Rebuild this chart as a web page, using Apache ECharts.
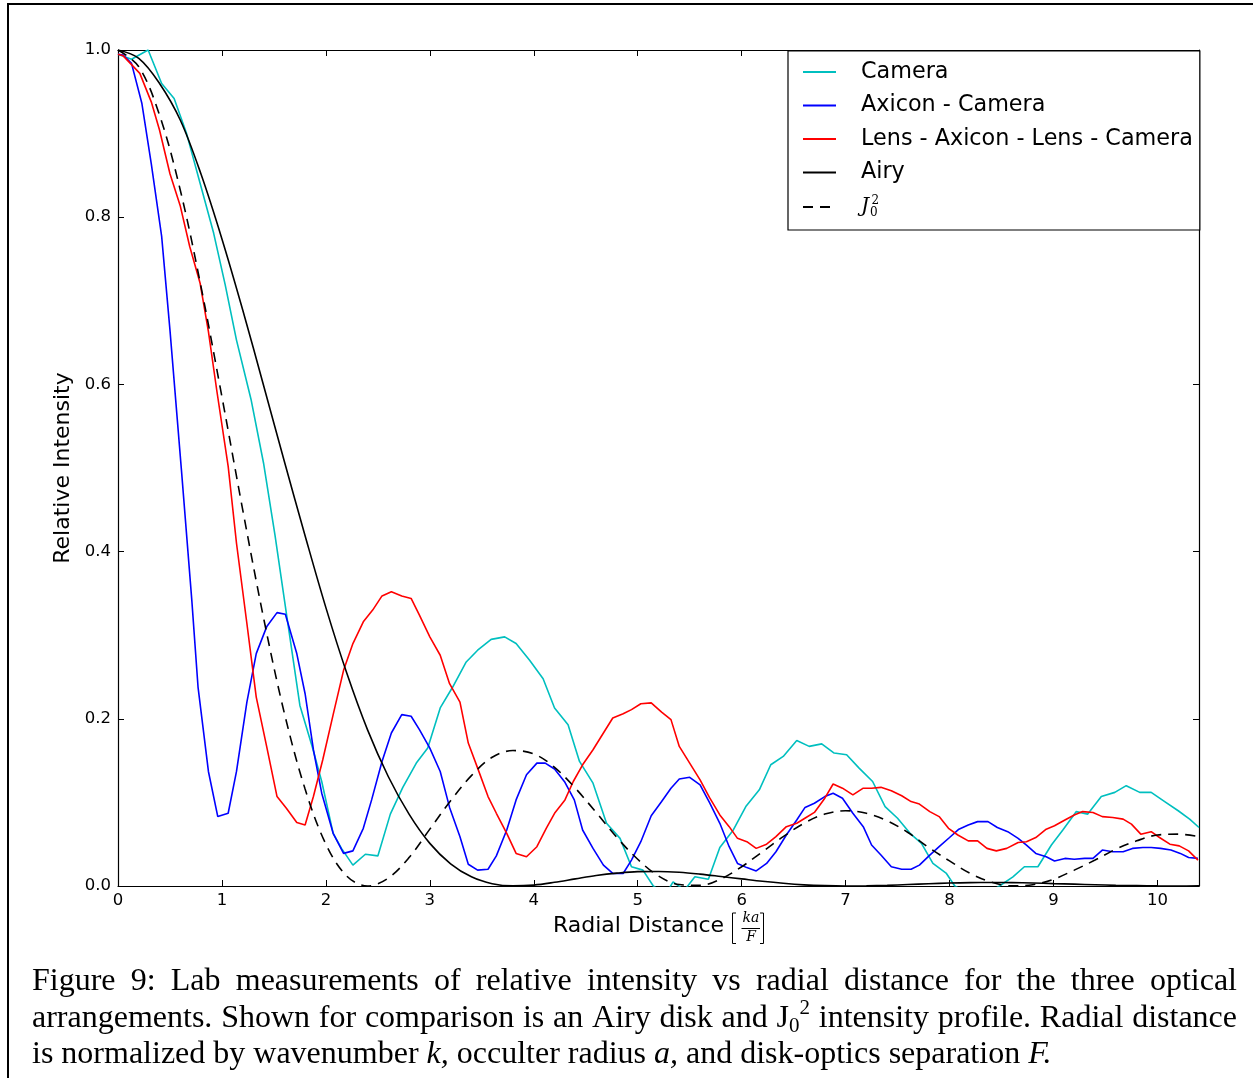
<!DOCTYPE html>
<html>
<head>
<meta charset="utf-8">
<script src="https://cdn.jsdelivr.net/npm/echarts@6/dist/echarts.min.js"></script>
<style>
html, body { margin: 0; padding: 0; background: #fff; }
#chart { width: 1253px; height: 1078px; }
</style>
</head>
<body>
<div id="chart"></div>
<script>
// measured profiles, [radial distance, relative intensity]
const cameraData = [
  [0.00, 0.995], [0.13, 0.989], [0.29, 1.000], [0.42, 0.960], [0.54, 0.942], [0.66, 0.900],
  [0.78, 0.845], [0.92, 0.781], [1.03, 0.720], [1.14, 0.653], [1.28, 0.582], [1.40, 0.506],
  [1.51, 0.420], [1.62, 0.326], [1.75, 0.216], [1.87, 0.166], [1.96, 0.125], [2.07, 0.063],
  [2.15, 0.045], [2.26, 0.025], [2.38, 0.038], [2.50, 0.036], [2.62, 0.086], [2.74, 0.118],
  [2.87, 0.147], [2.98, 0.165], [3.10, 0.213], [3.22, 0.238], [3.35, 0.268], [3.46, 0.282],
  [3.59, 0.295], [3.72, 0.298], [3.83, 0.290], [3.96, 0.270], [4.09, 0.248], [4.20, 0.213],
  [4.33, 0.193], [4.44, 0.149], [4.57, 0.123], [4.70, 0.075], [4.83, 0.057], [4.94, 0.023],
  [5.05, 0.019], [5.15, 0.000], [5.27, -0.010], [5.34, 0.005], [5.45, -0.005], [5.55, 0.011],
  [5.68, 0.008], [5.79, 0.046], [5.92, 0.067], [6.04, 0.095], [6.17, 0.115], [6.28, 0.145],
  [6.40, 0.155], [6.53, 0.174], [6.65, 0.167], [6.77, 0.170], [6.89, 0.159], [7.01, 0.157],
  [7.13, 0.141], [7.26, 0.125], [7.38, 0.095], [7.50, 0.081], [7.62, 0.063], [7.73, 0.051],
  [7.84, 0.027], [7.97, 0.015], [8.05, 0.000], [8.20, -0.010], [8.35, -0.010], [8.48, 0.000],
  [8.61, 0.011], [8.72, 0.023], [8.85, 0.023], [8.98, 0.049], [9.09, 0.067], [9.22, 0.089],
  [9.33, 0.086], [9.46, 0.107], [9.59, 0.112], [9.70, 0.120], [9.83, 0.112], [9.94, 0.112],
  [10.07, 0.101], [10.20, 0.090], [10.31, 0.080], [10.40, 0.070]
]

const axiconData = [
  [0.00, 0.995], [0.05, 0.994], [0.13, 0.984], [0.23, 0.936], [0.32, 0.864], [0.42, 0.777],
  [0.50, 0.665], [0.61, 0.498], [0.71, 0.342], [0.77, 0.238], [0.87, 0.137], [0.96, 0.083],
  [1.06, 0.087], [1.14, 0.137], [1.24, 0.220], [1.33, 0.278], [1.43, 0.310], [1.53, 0.327],
  [1.61, 0.325], [1.72, 0.278], [1.80, 0.230], [1.88, 0.163], [1.96, 0.111], [2.07, 0.063],
  [2.17, 0.039], [2.26, 0.042], [2.36, 0.069], [2.44, 0.103], [2.54, 0.149], [2.63, 0.183],
  [2.73, 0.205], [2.82, 0.203], [2.90, 0.187], [3.00, 0.165], [3.10, 0.137], [3.19, 0.094],
  [3.29, 0.059], [3.37, 0.026], [3.46, 0.019], [3.56, 0.020], [3.64, 0.036], [3.74, 0.067],
  [3.83, 0.103], [3.93, 0.133], [4.03, 0.147], [4.11, 0.147], [4.20, 0.140], [4.30, 0.124],
  [4.39, 0.103], [4.47, 0.067], [4.57, 0.045], [4.67, 0.025], [4.76, 0.015], [4.86, 0.015],
  [4.94, 0.031], [5.03, 0.053], [5.13, 0.084], [5.23, 0.101], [5.32, 0.117], [5.40, 0.128],
  [5.50, 0.130], [5.60, 0.121], [5.69, 0.100], [5.79, 0.075], [5.88, 0.047], [5.96, 0.027],
  [6.05, 0.022], [6.14, 0.018], [6.24, 0.027], [6.33, 0.041], [6.43, 0.061], [6.53, 0.079],
  [6.61, 0.094], [6.70, 0.099], [6.80, 0.107], [6.88, 0.111], [6.97, 0.105], [7.07, 0.087],
  [7.17, 0.071], [7.25, 0.049], [7.34, 0.037], [7.44, 0.023], [7.54, 0.020], [7.63, 0.020],
  [7.71, 0.025], [7.81, 0.037], [7.90, 0.047], [8.00, 0.058], [8.09, 0.068], [8.18, 0.073],
  [8.27, 0.077], [8.37, 0.077], [8.46, 0.070], [8.56, 0.065], [8.66, 0.057], [8.74, 0.049],
  [8.83, 0.039], [8.93, 0.035], [9.01, 0.030], [9.11, 0.033], [9.20, 0.032], [9.30, 0.033],
  [9.38, 0.033], [9.47, 0.043], [9.57, 0.041], [9.67, 0.041], [9.76, 0.045], [9.86, 0.046],
  [9.94, 0.046], [10.03, 0.045], [10.13, 0.043], [10.22, 0.039], [10.30, 0.034], [10.39, 0.033]
]

const lensData = [
  [0.00, 0.995], [0.05, 0.993], [0.21, 0.972], [0.32, 0.938], [0.40, 0.904], [0.50, 0.852],
  [0.60, 0.813], [0.69, 0.765], [0.79, 0.721], [0.87, 0.663], [0.95, 0.593], [1.06, 0.502],
  [1.14, 0.410], [1.24, 0.314], [1.33, 0.226], [1.43, 0.167], [1.53, 0.107], [1.62, 0.093],
  [1.72, 0.076], [1.80, 0.073], [1.88, 0.107], [1.97, 0.151], [2.07, 0.205], [2.17, 0.258],
  [2.26, 0.290], [2.36, 0.316], [2.45, 0.330], [2.54, 0.347], [2.63, 0.352], [2.73, 0.347],
  [2.82, 0.344], [2.90, 0.324], [3.00, 0.298], [3.10, 0.276], [3.19, 0.242], [3.29, 0.220],
  [3.37, 0.171], [3.46, 0.141], [3.56, 0.107], [3.64, 0.087], [3.74, 0.063], [3.83, 0.039],
  [3.93, 0.035], [4.03, 0.047], [4.12, 0.069], [4.20, 0.087], [4.30, 0.103], [4.38, 0.125],
  [4.47, 0.145], [4.57, 0.163], [4.67, 0.183], [4.76, 0.201], [4.86, 0.206], [4.94, 0.211],
  [5.03, 0.218], [5.13, 0.219], [5.23, 0.208], [5.32, 0.199], [5.40, 0.167], [5.50, 0.147],
  [5.60, 0.127], [5.69, 0.106], [5.79, 0.085], [5.88, 0.071], [5.96, 0.057], [6.05, 0.053],
  [6.14, 0.045], [6.24, 0.050], [6.33, 0.059], [6.43, 0.071], [6.53, 0.075], [6.62, 0.082],
  [6.70, 0.088], [6.80, 0.105], [6.88, 0.122], [6.97, 0.117], [7.07, 0.109], [7.17, 0.117],
  [7.25, 0.117], [7.34, 0.118], [7.44, 0.114], [7.54, 0.108], [7.63, 0.101], [7.71, 0.098],
  [7.81, 0.089], [7.90, 0.083], [7.99, 0.069], [8.08, 0.061], [8.18, 0.054], [8.27, 0.054],
  [8.36, 0.045], [8.45, 0.042], [8.55, 0.045], [8.66, 0.052], [8.74, 0.053], [8.83, 0.058],
  [8.93, 0.068], [9.01, 0.072], [9.11, 0.079], [9.20, 0.085], [9.28, 0.089], [9.38, 0.088],
  [9.47, 0.083], [9.57, 0.082], [9.67, 0.080], [9.75, 0.074], [9.84, 0.062], [9.94, 0.065],
  [10.02, 0.058], [10.12, 0.050], [10.21, 0.048], [10.30, 0.042], [10.39, 0.031]
]

// reference profiles, every 0.2
const airyData = [
  [0.0, 1.000], [0.2, 0.990], [0.4, 0.960], [0.6, 0.916], [0.8, 0.851], [1.0, 0.774],
  [1.2, 0.689], [1.4, 0.599], [1.6, 0.508], [1.8, 0.419], [2.0, 0.333], [2.2, 0.255],
  [2.4, 0.187], [2.6, 0.131], [2.8, 0.086], [3.0, 0.051], [3.2, 0.0266], [3.4, 0.011],
  [3.6, 0.0028], [3.8, 0.0001], [4.0, 0.0011], [4.2, 0.0044], [4.4, 0.0085], [4.6, 0.0125],
  [4.8, 0.0154], [5.0, 0.0172], [5.2, 0.0174], [5.4, 0.0164], [5.6, 0.0142], [5.8, 0.0114],
  [6.0, 0.0085], [6.2, 0.0056], [6.4, 0.0032], [6.6, 0.0014], [6.8, 0.0004], [7.0, 0.0000],
  [7.2, 0.0002], [7.4, 0.0008], [7.6, 0.0018], [7.8, 0.0027], [8.0, 0.0035], [8.2, 0.0040],
  [8.4, 0.0042], [8.6, 0.0040], [8.8, 0.0036], [9.0, 0.0029], [9.2, 0.0022], [9.4, 0.0015],
  [9.6, 0.0008], [9.8, 0.0004], [10.0, 0.0001], [10.2, 0.0000], [10.4, 0.0001]
]

const j0Data = [
  [0.0, 1.000], [0.2, 0.980], [0.4, 0.922], [0.6, 0.832], [0.8, 0.716], [1.0, 0.585],
  [1.2, 0.450], [1.4, 0.321], [1.6, 0.207], [1.8, 0.116], [2.0, 0.050], [2.2, 0.012],
  [2.4, 0.000], [2.6, 0.0094], [2.8, 0.034], [3.0, 0.068], [3.2, 0.102], [3.4, 0.132],
  [3.6, 0.154], [3.8, 0.162], [4.0, 0.158], [4.2, 0.142], [4.4, 0.117], [4.6, 0.088],
  [4.8, 0.058], [5.0, 0.032], [5.2, 0.012], [5.4, 0.0017], [5.6, 0.0007], [5.8, 0.0085],
  [6.0, 0.023], [6.2, 0.041], [6.4, 0.059], [6.6, 0.075], [6.8, 0.086], [7.0, 0.090],
  [7.2, 0.087], [7.4, 0.078], [7.6, 0.064], [7.8, 0.046], [8.0, 0.030], [8.2, 0.015],
  [8.4, 0.0048], [8.6, 0.0002], [8.8, 0.0015], [9.0, 0.0081], [9.2, 0.019], [9.4, 0.031],
  [9.6, 0.044], [9.8, 0.054], [10.0, 0.061], [10.2, 0.062], [10.4, 0.059]
]

const seriesNames = ['Camera', 'Axicon - Camera', 'Lens - Axicon - Lens - Camera', 'Airy', 'J0^2']

const captionLines = [
  'Figure 9: Lab measurements of relative intensity vs radial distance for the three optical',
  'arrangements. Shown for comparison is an Airy disk and J0^2 intensity profile. Radial distance',
  'is normalized by wavenumber *k, occulter radius *a, and disk-optics separation *F.'
]

const sans = 'DejaVu Sans'
const serif = 'DejaVu Serif'
const capFamily = 'Liberation Serif'
const capSize = 32

// caption: justified lines built from measured words
function buildCaption () {
  const ctx = document.createElement('canvas').getContext('2d')
  const measure = (t, size, italic) => {
    ctx.font = (italic ? 'italic ' : '') + size + 'px "' + capFamily + '"'
    return ctx.measureText(t).width
  }
  const parseWord = w => {
    if (w.indexOf('J0^2') === 0) {
      return [{ t: 'J' }, { t: '0', size: 21, dy: 8 }, { t: '2', size: 21, dy: -10 }]
    }
    if (w[0] === '*') return [{ t: w.slice(1), italic: true }]
    return [{ t: w }]
  }
  const left = 32
  const right = 1237
  const ys = [982, 1018.5, 1054.5]
  const els = []
  captionLines.forEach((line, li) => {
    const words = line.split(' ').map(w => {
      const segs = parseWord(w)
      segs.forEach(s => { s.w = measure(s.t, s.size || capSize, s.italic) })
      return { segs, w: segs.reduce((a, s) => a + s.w, 0) }
    })
    const total = words.reduce((a, w) => a + w.w, 0)
    const justify = li < captionLines.length - 1
    const gap = justify ? (right - left - total) / (words.length - 1) : measure(' ', capSize)
    let x = left
    words.forEach(word => {
      let sx = x
      word.segs.forEach(s => {
        els.push({
          type: 'text', x: sx, y: ys[li] + (s.dy || 0), silent: true,
          style: {
            text: s.t, fill: '#000', fontSize: s.size || capSize, fontFamily: capFamily,
            fontStyle: s.italic ? 'italic' : 'normal',
            align: 'left', verticalAlign: 'middle', textAlign: 'left', textVerticalAlign: 'middle'
          }
        })
        sx += s.w
      })
      x += word.w + gap
    })
  })
  return els
}

const axisBase = {
  type: 'value',
  axisLine: { show: true, onZero: false, lineStyle: { color: '#000', width: 1.2 } },
  axisTick: { show: true, inside: true, length: 6, lineStyle: { color: '#000', width: 1 } },
  splitLine: { show: false }
}

const chart = echarts.init(document.getElementById('chart'))

const option = {
  animation: false,
  backgroundColor: '#fff',
  grid: { left: 118, top: 50, right: 54, bottom: 192, containLabel: false },
  xAxis: [
    Object.assign({}, axisBase, {
      min: 0, max: 10.4, interval: 1, position: 'bottom',
      axisLabel: { showMaxLabel: false, color: '#000', fontSize: 16.5, fontFamily: sans, margin: 6 }
    }),
    Object.assign({}, axisBase, {
      min: 0, max: 10.4, interval: 1, position: 'top', axisLabel: { show: false }
    })
  ],
  yAxis: [
    Object.assign({}, axisBase, {
      min: 0, max: 1, interval: 0.2, position: 'left',
      axisLabel: { color: '#000', fontSize: 16.5, fontFamily: sans, margin: 7, formatter: v => v.toFixed(1) },
      name: 'Relative Intensity', nameLocation: 'middle', nameGap: 42,
      nameTextStyle: { color: '#000', fontSize: 22, fontFamily: sans }
    }),
    Object.assign({}, axisBase, {
      min: 0, max: 1, interval: 0.2, position: 'right', axisLabel: { show: false }
    })
  ],
  legend: {
    orient: 'vertical', left: 788, top: 51,
    padding: [10, 7, 11, 14], itemGap: 11.5, itemWidth: 33, itemHeight: 12,
    backgroundColor: '#fff', borderColor: '#000', borderWidth: 1.2, borderRadius: 0,
    selectedMode: false,
    itemStyle: { opacity: 0, color: 'rgba(0,0,0,0)', borderWidth: 0 },
    data: seriesNames,
    formatter: name => name === 'J0^2' ? '{j|J}{b|0}{t|2}' : name,
    textStyle: {
      color: '#000', fontSize: 22.3, fontFamily: sans, padding: [0, 0, 0, 20],
      rich: {
        j: { fontSize: 20, fontFamily: serif, fontStyle: 'italic', color: '#000' },
        b: { fontSize: 12, fontFamily: serif, color: '#000', verticalAlign: 'bottom', width: 0.5, padding: [12, 0, 0, 1] },
        t: { fontSize: 12, fontFamily: serif, color: '#000', verticalAlign: 'top', padding: [0, 0, 10, 1] }
      }
    }
  },
  series: [
    { name: seriesNames[0], data: cameraData, color: '#00bfbf' },
    { name: seriesNames[1], data: axiconData, color: '#0000ff' },
    { name: seriesNames[2], data: lensData, color: '#ff0000' },
    { name: seriesNames[3], data: airyData, color: '#000000', smooth: 0.35 },
    { name: seriesNames[4], data: j0Data, color: '#000000', smooth: 0.35, dash: [10, 7] }
  ].map(s => ({
    type: 'line',
    name: s.name,
    data: s.data,
    xAxisIndex: 0,
    yAxisIndex: 0,
    symbol: 'none',
    showSymbol: false,
    smooth: s.smooth || false,
    clip: true,
    itemStyle: { color: s.color },
    lineStyle: { color: s.color, width: 1.6, type: s.dash || 'solid' }
  })),
  graphic: { elements: [
    // figure frame
    { type: 'rect', silent: true, shape: { x: 8, y: 4, width: 1400, height: 1300 },
      style: { fill: 'none', stroke: '#000', lineWidth: 2 } },
    // x axis title with [ka/F]
    { type: 'text', x: 553, y: 926, silent: true,
      style: { text: 'Radial Distance', fill: '#000', fontSize: 22, fontFamily: sans, align: 'left', verticalAlign: 'middle' } },
    { type: 'polyline', silent: true, shape: { points: [[736, 913], [732.5, 913], [732.5, 943.5], [736, 943.5]] },
      style: { stroke: '#000', lineWidth: 1, fill: 'none' } },
    { type: 'polyline', silent: true, shape: { points: [[760, 913], [763.5, 913], [763.5, 943.5], [760, 943.5]] },
      style: { stroke: '#000', lineWidth: 1, fill: 'none' } },
    { type: 'text', x: 751, y: 918.5, silent: true,
      style: { text: 'ka', fill: '#000', fontSize: 14, fontFamily: serif, fontStyle: 'italic', align: 'center', verticalAlign: 'middle' } },
    { type: 'line', silent: true, shape: { x1: 741.5, y1: 928.5, x2: 760, y2: 928.5 },
      style: { stroke: '#000', lineWidth: 1 } },
    { type: 'text', x: 751, y: 937.5, silent: true,
      style: { text: 'F', fill: '#000', fontSize: 14, fontFamily: serif, fontStyle: 'italic', align: 'center', verticalAlign: 'middle' } }
  ].concat(buildCaption()) }
}

chart.setOption(option)
</script>
</body>
</html>
